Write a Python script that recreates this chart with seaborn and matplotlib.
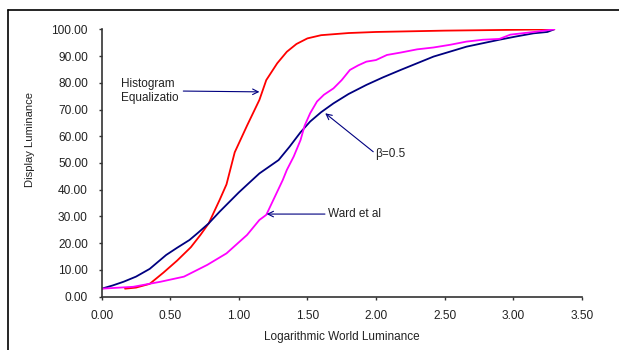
import matplotlib
matplotlib.use("Agg")
import matplotlib.pyplot as plt
import seaborn as sns
import pandas as pd
from matplotlib.lines import Line2D

# ---- data ----
hist_x = [0.17, 0.25, 0.35, 0.45, 0.55, 0.65, 0.72, 0.78, 0.86, 0.91, 0.97, 1.06, 1.15,
          1.20, 1.28, 1.35, 1.42, 1.50, 1.60, 1.80, 2.00, 2.50, 3.00, 3.30]
hist_y = [3.0, 3.4, 4.8, 9.0, 13.5, 18.5, 23.1, 27.4, 36.2, 42.0, 54.0, 64.0, 73.6,
          81.0, 87.3, 91.6, 94.5, 96.6, 97.8, 98.6, 99.0, 99.5, 99.8, 100.0]

beta_x = [0.0, 0.08, 0.16, 0.25, 0.35, 0.47, 0.55, 0.64, 0.70, 0.78, 0.86, 1.00, 1.08,
          1.15, 1.22, 1.29, 1.37, 1.45, 1.52, 1.60, 1.69, 1.80, 1.93, 2.05, 2.18,
          2.30, 2.42, 2.55, 2.66, 2.78, 2.90, 3.02, 3.15, 3.25, 3.30]
beta_y = [3.0, 4.2, 5.6, 7.5, 10.4, 15.6, 18.3, 21.2, 23.8, 27.4, 31.8, 39.0, 42.8,
          46.1, 48.6, 51.1, 56.1, 61.5, 65.5, 69.0, 72.3, 75.8, 79.2, 82.0, 84.8,
          87.3, 89.8, 91.8, 93.5, 94.8, 96.1, 97.3, 98.5, 99.0, 100.0]

ward_x = [0.0, 0.23, 0.43, 0.60, 0.77, 0.91, 1.06, 1.15, 1.20, 1.32, 1.35, 1.40,
          1.45, 1.48, 1.52, 1.57, 1.62, 1.69, 1.75, 1.81, 1.87, 1.93, 2.00, 2.08,
          2.18, 2.30, 2.42, 2.54, 2.66, 2.78, 2.90, 2.98, 3.15, 3.30]
ward_y = [3.0, 3.7, 5.6, 7.5, 11.9, 16.2, 23.1, 28.7, 30.6, 43.6, 47.4, 52.4,
          58.6, 64.0, 68.6, 73.0, 75.5, 77.9, 81.0, 84.8, 86.5, 87.9, 88.5, 90.4,
          91.3, 92.5, 93.2, 94.2, 95.4, 96.1, 96.4, 98.0, 99.0, 100.0]

x_ticks = [0.0, 0.5, 1.0, 1.5, 2.0, 2.5, 3.0, 3.5]
y_ticks = [0, 10, 20, 30, 40, 50, 60, 70, 80, 90, 100]

series_names = ["Histogram Equalization", "beta=0.5", "Ward et al"]
colors = {"Histogram Equalization": "#FF0000", "beta=0.5": "#000080", "Ward et al": "#FF00FF"}

df = pd.concat([
    pd.DataFrame({"x": hist_x, "y": hist_y, "s": series_names[0]}),
    pd.DataFrame({"x": beta_x, "y": beta_y, "s": series_names[1]}),
    pd.DataFrame({"x": ward_x, "y": ward_y, "s": series_names[2]}),
], ignore_index=True)

sns.set_style("ticks")
plt.rcParams["font.family"] = ["Liberation Sans", "DejaVu Sans"]

fig = plt.figure(figsize=(6.19, 3.5), dpi=100)
ax = fig.add_axes([0.1643, 0.1523, 0.7754, 0.764])

sns.lineplot(data=df, x="x", y="y", hue="s", palette=colors, sort=False,
             estimator=None, linewidth=1.3, legend=False, ax=ax)

ax.set_xlim(0, 3.5)
ax.set_ylim(0, 100)
ax.set_xticks(x_ticks)
ax.set_yticks(y_ticks)
ax.set_xticklabels([f"{v:.2f}" for v in x_ticks], fontsize=8.6, color="#222222")
ax.set_yticklabels([f"{v:.2f}" for v in y_ticks], fontsize=8.6, color="#222222")
ax.tick_params(axis="x", direction="out", length=2.5, width=1, color="#333333", pad=7)
ax.tick_params(axis="y", direction="out", length=2.5, width=1, color="#333333", pad=7.5)
for sp in ["top", "right"]:
    ax.spines[sp].set_visible(False)
for sp in ["left", "bottom"]:
    ax.spines[sp].set_color("#333333")
    ax.spines[sp].set_linewidth(1.2)

ax.set_xlabel("Logarithmic World Luminance", fontsize=8.5, color="#222222")
ax.set_ylabel("Display Luminance", fontsize=8.1, color="#222222")
ax.xaxis.set_label_coords(0.5, -0.128)
ax.yaxis.set_label_coords(-0.139, 0.586)

arrow = dict(arrowstyle="->", color="#000080", lw=0.8, shrinkA=0, shrinkB=0)
ax.annotate("", xy=(1.15, 76.6), xytext=(0.595, 76.9), arrowprops=arrow)
ax.text(0.14, 77.0, "Histogram\nEqualizatio", fontsize=8.5, va="center", ha="left",
        color="#222222", linespacing=1.2)

ax.annotate("", xy=(1.63, 68.6), xytext=(1.98, 54.2), arrowprops=arrow)
ax.text(1.993, 53.4, "β=0.5", fontsize=8.5, va="center", ha="left", color="#222222")

ax.annotate("", xy=(1.203, 30.9), xytext=(1.628, 30.9), arrowprops=arrow)
ax.text(1.652, 30.9, "Ward et al", fontsize=8.5, va="center", ha="left", color="#222222")

# outer frame (top and left edges visible)
fx = 7.5 / 619
fy = 1 - 10 / 350
fig.add_artist(Line2D([fx, 1.0], [fy, fy], transform=fig.transFigure, color="black", lw=1.2))
fig.add_artist(Line2D([fx, fx], [0.0, fy], transform=fig.transFigure, color="black", lw=1.2))

fig.savefig("out.png", dpi=100)
